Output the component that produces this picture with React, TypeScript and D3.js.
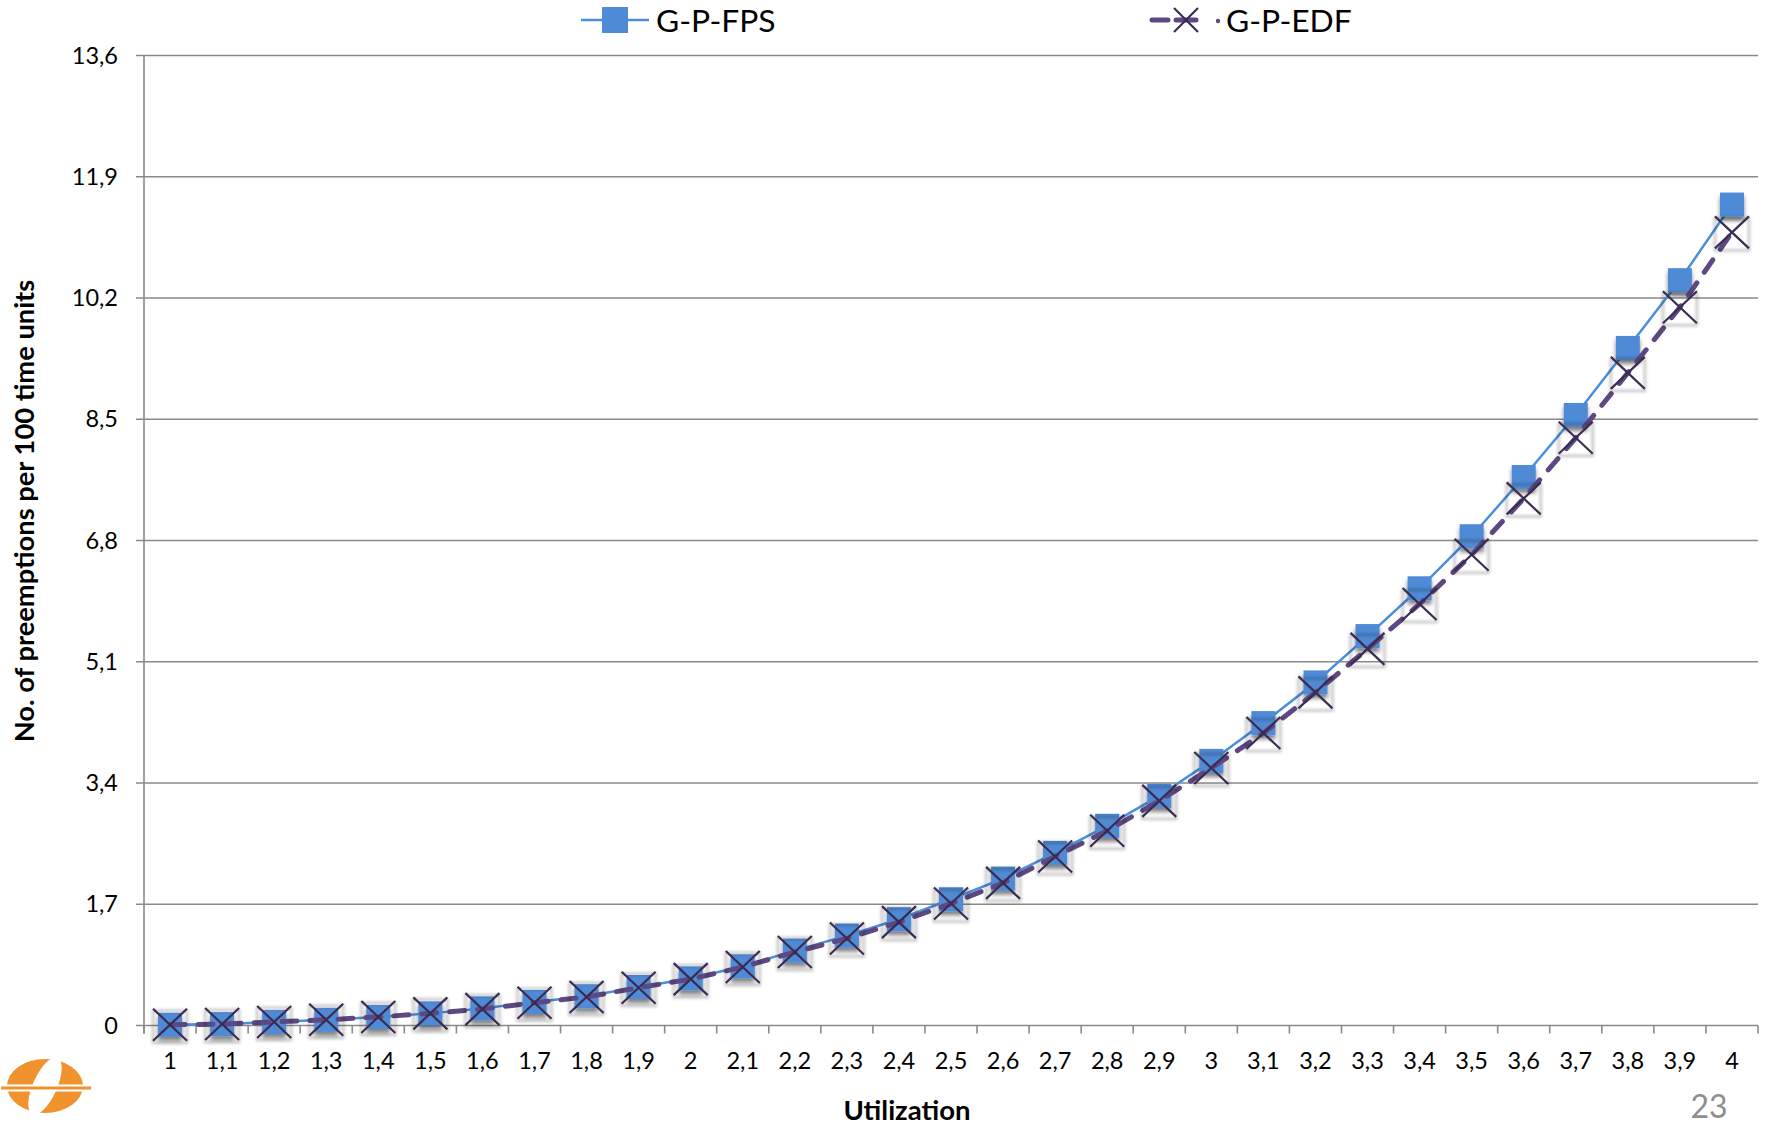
import React from "react";
import * as d3 from "d3";

// Utilization categories (x axis) and preemption counts per 100 time units
const categories = [
  "1", "1,1", "1,2", "1,3", "1,4", "1,5", "1,6", "1,7", "1,8", "1,9",
  "2", "2,1", "2,2", "2,3", "2,4", "2,5", "2,6", "2,7", "2,8", "2,9",
  "3", "3,1", "3,2", "3,3", "3,4", "3,5", "3,6", "3,7", "3,8", "3,9", "4",
];

const fpsValues = [
  0.01, 0.02, 0.05, 0.08, 0.12, 0.17, 0.24, 0.33, 0.41, 0.54,
  0.66, 0.83, 1.05, 1.26, 1.49, 1.77, 2.06, 2.42, 2.8, 3.22,
  3.71, 4.24, 4.81, 5.46, 6.13, 6.86, 7.69, 8.56, 9.5, 10.45, 11.51,
];

const edfValues = [
  0.01, 0.02, 0.05, 0.08, 0.12, 0.17, 0.23, 0.32, 0.4, 0.53,
  0.65, 0.82, 1.03, 1.22, 1.45, 1.71, 2.0, 2.37, 2.73, 3.15,
  3.61, 4.1, 4.67, 5.28, 5.91, 6.6, 7.39, 8.24, 9.15, 10.07, 11.12,
];

const yTicks = [0, 1.7, 3.4, 5.1, 6.8, 8.5, 10.2, 11.9, 13.6];
const seriesNames = ["G-P-FPS", "G-P-EDF"];

const W = 1765;
const H = 1125;
const plot = { left: 144, right: 1758, top: 55.5, bottom: 1025.5 };

const FONT = "Lato, 'Open Sans', sans-serif";
const AXIS = "#8a8a8a";
const BLUE_LINE = "#4a8fdc";
const BLUE_FILL = "#4f8ad6";
const PURPLE_LINE = "#5d4882";
const PURPLE_X = "#3a2b52";
const ORANGE = "#f0932f";

const fmt = (v: number) => (v === 0 ? "0" : v.toFixed(1).replace(".", ","));

function XMark({ cx, cy, hw, hh, box }: { cx: number; cy: number; hw: number; hh: number; box: boolean }) {
  return (
    <g>
      {box && (
        <rect
          x={cx - hw}
          y={cy - hh + 2}
          width={hw * 2}
          height={hh * 2}
          fill="none"
          stroke="#000"
          strokeOpacity={0.24}
          strokeWidth={2.5}
          filter="url(#boxShadow)"
        />
      )}
      <line x1={cx - hw} y1={cy - hh} x2={cx + hw} y2={cy + hh} stroke={PURPLE_X} strokeWidth={2.2} />
      <line x1={cx - hw} y1={cy + hh} x2={cx + hw} y2={cy - hh} stroke={PURPLE_X} strokeWidth={2.2} />
    </g>
  );
}

export default function App() {
  const x = d3.scaleBand<string>().domain(categories).range([plot.left, plot.right]).paddingInner(0).paddingOuter(0);
  const y = d3.scaleLinear().domain([0, 13.6]).range([plot.bottom, plot.top]);
  const cx = (c: string) => (x(c) as number) + x.bandwidth() / 2;

  const fpsPts = categories.map((c, i) => [cx(c), y(fpsValues[i])] as [number, number]);
  const edfPts = categories.map((c, i) => [cx(c), y(edfValues[i])] as [number, number]);
  const line = d3.line<[number, number]>();

  const boundaries = d3.range(categories.length + 1).map((i) => plot.left + i * x.bandwidth());

  return (
    <svg
      width={W}
      height={H}
      style={{ position: "absolute", left: 0, top: 0, background: "#fff" }}
      fontFamily={FONT}
    >
      <defs>
        <filter id="sqShadow" x="-50%" y="-50%" width="200%" height="200%">
          <feDropShadow dx="0" dy="4" stdDeviation="2" floodColor="#000" floodOpacity="0.5" />
        </filter>
        <filter id="boxShadow" x="-50%" y="-50%" width="200%" height="200%">
          <feGaussianBlur stdDeviation="1.6" />
        </filter>
      </defs>
      <rect x={0} y={0} width={W} height={H} fill="#fff" />

      {/* horizontal gridlines */}
      {yTicks.map((t) => (
        <line key={"g" + t} x1={plot.left - 8} x2={plot.right} y1={y(t)} y2={y(t)} stroke={AXIS} strokeWidth={1.6} />
      ))}
      {/* y axis line */}
      <line x1={plot.left} x2={plot.left} y1={plot.top} y2={plot.bottom + 8} stroke={AXIS} strokeWidth={1.6} />
      {/* category tick marks */}
      {boundaries.map((bx, i) => (
        <line key={"t" + i} x1={bx} x2={bx} y1={plot.bottom} y2={plot.bottom + 8} stroke={AXIS} strokeWidth={1.6} />
      ))}

      {/* y tick labels */}
      {yTicks.map((t) => (
        <text key={"yl" + t} x={118} y={y(t) + 8} fontSize={23.5} textAnchor="end" fill="#000">
          {fmt(t)}
        </text>
      ))}
      {/* x tick labels */}
      {categories.map((c) => (
        <text key={"xl" + c} x={cx(c)} y={1069} fontSize={23.5} textAnchor="middle" fill="#000">
          {c}
        </text>
      ))}

      {/* axis titles */}
      <text
        transform={`translate(34, 511) rotate(-90)`}
        fontSize={27.3}
        fontWeight="bold"
        textAnchor="middle"
        fill="#000"
      >
        No. of preemptions per 100 time units
      </text>
      <text x={907} y={1120} fontSize={27.5} fontWeight="bold" textAnchor="middle" fill="#000">
        Utilization
      </text>

      {/* G-P-FPS series */}
      <path d={line(fpsPts) || ""} fill="none" stroke={BLUE_LINE} strokeWidth={2.5} />
      {fpsPts.map(([px, py], i) => (
        <rect key={"s" + i} x={px - 12} y={py - 12} width={24} height={24} fill={BLUE_FILL} filter="url(#sqShadow)" />
      ))}

      {/* G-P-EDF series */}
      <path
        d={line(edfPts) || ""}
        fill="none"
        stroke={PURPLE_LINE}
        strokeWidth={5}
        strokeDasharray="15 13"
        strokeLinecap="round"
      />
      {edfPts.map(([px, py], i) => (
        <XMark key={"x" + i} cx={px} cy={py} hw={17} hh={16} box={true} />
      ))}

      {/* legend */}
      <g>
        <line x1={581} x2={649} y1={20} y2={20} stroke={BLUE_LINE} strokeWidth={2.5} />
        <rect x={602} y={7} width={26} height={26} fill={BLUE_FILL} />
        <text x={656} y={32} fontSize={31.8} fill="#000">
          {seriesNames[0]}
        </text>
        <line x1={1152} x2={1168} y1={20} y2={20} stroke={PURPLE_LINE} strokeWidth={5} strokeLinecap="round" />
        <line x1={1176} x2={1196} y1={20} y2={20} stroke={PURPLE_LINE} strokeWidth={5} strokeLinecap="round" />
        <circle cx={1218} cy={21} r={2.2} fill={PURPLE_LINE} />
        <XMark cx={1186} cy={20} hw={12} hh={12} box={false} />
        <text x={1226} y={32} fontSize={31.8} fill="#000">
          {seriesNames[1]}
        </text>
      </g>

      {/* logo */}
      <g>
        <ellipse cx={45} cy={1086} rx={38} ry={27} fill={ORANGE} />
        <ellipse cx={45} cy={1086} rx={12} ry={31} fill="#fff" transform="rotate(24 45 1086)" />
        <line x1={0} x2={92} y1={1088} y2={1088} stroke="#fff" strokeWidth={7} />
        <line x1={1} x2={91} y1={1088} y2={1088} stroke={ORANGE} strokeWidth={3} />
      </g>

      {/* page number */}
      <text x={1709} y={1118} fontSize={32} textAnchor="middle" fill="#8e8e8e">
        23
      </text>
    </svg>
  );
}
